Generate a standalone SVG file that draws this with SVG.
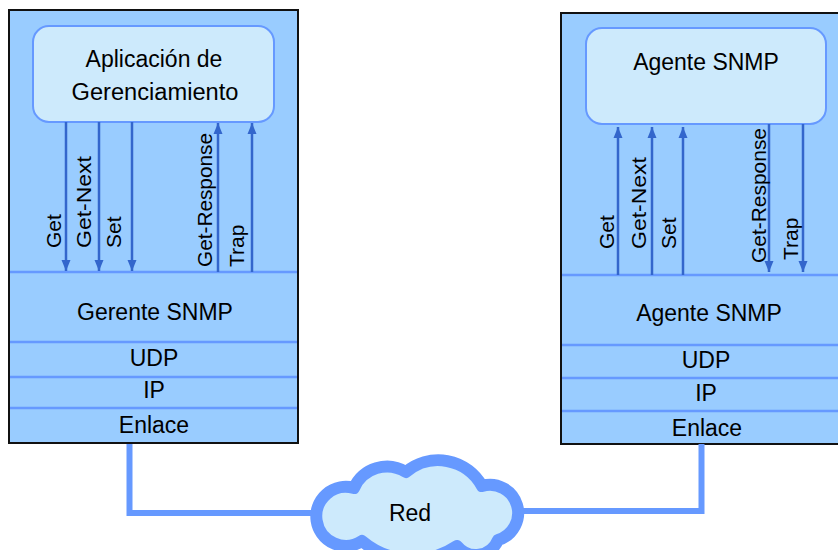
<svg xmlns="http://www.w3.org/2000/svg" width="838" height="550" viewBox="0 0 838 550">
<defs>
<style>
.host{fill:#99ccff;stroke:#111;stroke-width:2}
.app{fill:#cdeafc;stroke:#6699ff;stroke-width:2}
.sep{stroke:#6699ff;stroke-width:2.5;fill:none}
.t{font-family:"Liberation Sans",Arial,sans-serif;font-size:23px;fill:#000;text-anchor:middle}
.lbl{font-family:"Liberation Sans",Arial,sans-serif;font-size:21px;fill:#000}
.arr{stroke:#3366cc;stroke-width:2.5;fill:none;marker-end:url(#ah)}
.net{stroke:#6699ff;stroke-width:6;fill:none}
.cloud{fill:#cdeafc;stroke:#6699ff;stroke-width:12;stroke-linejoin:round}
</style>
<marker id="ah" markerUnits="userSpaceOnUse" markerWidth="12" markerHeight="12" viewBox="0 0 12 12" refX="11" refY="6" orient="auto">
<path d="M0,1.5 L11,6 L0,10.5 Z" fill="#3366cc"/>
</marker>
</defs>

<g id="host-gerente">
<rect class="host" x="9" y="10" width="289" height="433"/>
<line class="sep" x1="10" y1="272" x2="297" y2="272"/>
<line class="sep" x1="10" y1="342" x2="297" y2="342"/>
<line class="sep" x1="10" y1="377" x2="297" y2="377"/>
<line class="sep" x1="10" y1="408" x2="297" y2="408"/>
<text class="t" x="155" y="320">Gerente SNMP</text>
<text class="t" x="154" y="366">UDP</text>
<text class="t" x="154" y="398">IP</text>
<text class="t" x="154" y="433">Enlace</text>
</g>
<g id="app-gerenciamiento">
<rect class="app" x="33" y="26" width="241" height="96" rx="16"/>
<text class="t" x="154" y="67">Aplicación de</text>
<text class="t" x="155" y="100" textLength="167" lengthAdjust="spacingAndGlyphs">Gerenciamiento</text>
</g>

<g id="host-agente">
<rect class="host" x="561" y="13" width="300" height="431"/>
<line class="sep" x1="562" y1="275" x2="838" y2="275"/>
<line class="sep" x1="562" y1="345" x2="838" y2="345"/>
<line class="sep" x1="562" y1="378" x2="838" y2="378"/>
<line class="sep" x1="562" y1="411" x2="838" y2="411"/>
<text class="t" x="709" y="321">Agente SNMP</text>
<text class="t" x="706" y="368">UDP</text>
<text class="t" x="706" y="401">IP</text>
<text class="t" x="707" y="436">Enlace</text>
</g>
<g id="app-agente">
<rect class="app" x="586" y="28" width="240" height="96" rx="16"/>
<text class="t" x="706" y="70">Agente SNMP</text>
</g>

<g id="connectors">
<line class="arr" x1="66" y1="122" x2="66" y2="271"/>
<line class="arr" x1="99" y1="122" x2="99" y2="271"/>
<line class="arr" x1="132" y1="122" x2="132" y2="271"/>
<line class="arr" x1="218" y1="272" x2="218" y2="123"/>
<line class="arr" x1="252" y1="272" x2="252" y2="123"/>
<line class="arr" x1="618" y1="275" x2="618" y2="127"/>
<line class="arr" x1="652" y1="275" x2="652" y2="127"/>
<line class="arr" x1="683" y1="275" x2="683" y2="127"/>
<line class="arr" x1="769" y1="124" x2="769" y2="272"/>
<line class="arr" x1="803" y1="124" x2="803" y2="272"/>
<text class="lbl" transform="translate(61,248) rotate(-90)">Get</text>
<text class="lbl" transform="translate(91,248) rotate(-90)" textLength="92" lengthAdjust="spacingAndGlyphs">Get-Next</text>
<text class="lbl" transform="translate(121,248) rotate(-90)">Set</text>
<text class="lbl" transform="translate(212,267) rotate(-90)" textLength="134" lengthAdjust="spacingAndGlyphs">Get-Response</text>
<text class="lbl" transform="translate(244,267) rotate(-90)">Trap</text>
<text class="lbl" transform="translate(614,249) rotate(-90)">Get</text>
<text class="lbl" transform="translate(646,249) rotate(-90)" textLength="92" lengthAdjust="spacingAndGlyphs">Get-Next</text>
<text class="lbl" transform="translate(676,249) rotate(-90)">Set</text>
<text class="lbl" transform="translate(766,263) rotate(-90)" textLength="135" lengthAdjust="spacingAndGlyphs">Get-Response</text>
<text class="lbl" transform="translate(798,260) rotate(-90)">Trap</text>
<polyline class="net" points="129.5,444 129.5,513 320,513"/>
<polyline class="net" points="505,511 701.5,511 701.5,444"/>
</g>

<g id="red">
<path class="cloud" d="M354,488 A36,36 0 0 1 406,472 A50,50 0 0 1 482,486 A28,28 0 0 1 498,540 A24,24 0 0 1 457,546 A79,79 0 0 1 362,541 A29.5,29.5 0 1 1 354,488 Z"/>
<text class="t" x="410" y="521">Red</text>
</g>
</svg>
